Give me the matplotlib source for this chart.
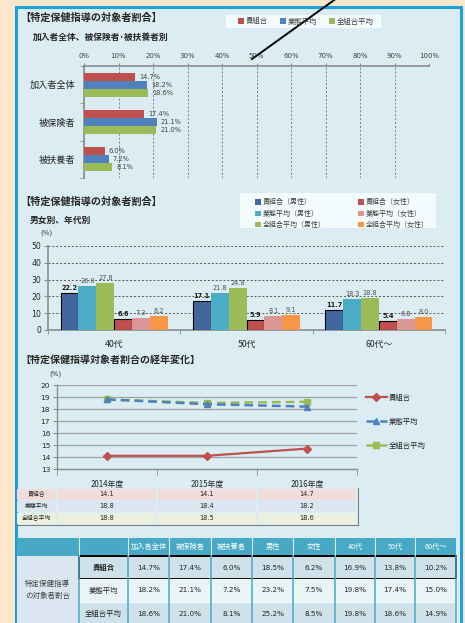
import matplotlib.pyplot as plt
import numpy as np
from matplotlib.patches import Rectangle
from matplotlib.lines import Line2D

plt.rcParams['font.family'] = ['Noto Sans CJK JP', 'DejaVu Sans']

W, H = 465, 623
NUM = 'DejaVu Sans'

# --- data -------------------------------------------------------------
group_labels = ['加入者全体', '被保険者', '被扶養者']
series_names = ['貴組合', '業態平均', '全組合平均']
ratio_kumiai = [14.7, 17.4, 6.0]
ratio_gyotai = [18.2, 21.1, 7.2]
ratio_zen = [18.6, 21.0, 8.1]

age_labels = ['40代', '50代', '60代～']
age_series_names = ['貴組合（男性）', '業態平均（男性）', '全組合平均（男性）',
                    '貴組合（女性）', '業態平均（女性）', '全組合平均（女性）']
male_kumiai = [22.2, 17.1, 11.7]
male_gyotai = [26.0, 21.8, 18.3]
male_zen = [27.8, 24.8, 18.8]
female_kumiai = [6.6, 5.9, 5.4]
female_gyotai = [7.3, 8.1, 6.8]
female_zen = [8.2, 9.1, 8.0]

years = ['2014年度', '2015年度', '2016年度']
trend_kumiai = [14.1, 14.1, 14.7]
trend_gyotai = [18.8, 18.4, 18.2]
trend_zen = [18.8, 18.5, 18.6]

table_cols = ['加入者全体', '被保険者', '被扶養者', '男性', '女性', '40代', '50代', '60代～']
table_kumiai = [14.7, 17.4, 6.0, 18.5, 6.2, 16.9, 13.8, 10.2]
table_gyotai = [18.2, 21.1, 7.2, 23.2, 7.5, 19.8, 17.4, 15.0]
table_zen = [18.6, 21.0, 8.1, 25.2, 8.5, 19.8, 18.6, 14.9]

# --- figure / background ---------------------------------------------
fig = plt.figure(figsize=(W / 100, H / 100), dpi=100)
fig.patch.set_facecolor('#FBE7C9')
bg = fig.add_axes([0, 0, 1, 1])
bg.set_xlim(0, W)
bg.set_ylim(H, 0)
bg.axis('off')


def px_axes(l, t, r, b):
    ax = fig.add_axes([l / W, 1 - b / H, (r - l) / W, (b - t) / H])
    ax.set_facecolor('none')
    return ax


def rect(x0, y0, x1, y1, **kw):
    bg.add_patch(Rectangle((x0, y0), x1 - x0, y1 - y0, **kw))


rect(15.5, 6.5, 460.5, 660, fc='#DBEDF3', ec='#1BA0E0', lw=2.2)

GRAY = '#8C8C8C'

# ===== 1. 加入者全体、被保険者・被扶養者別 =====
bg.text(20, 18, '【特定保健指導の対象者割合】', fontsize=7.3, weight='bold', va='center', color='#262626')
bg.text(33, 37, '加入者全体、被保険者･被扶養者別', fontsize=6.3, weight='bold', va='center', color='#262626')

ax1 = px_axes(84, 66, 429, 178)
y = np.arange(len(group_labels))
h = 0.215
colors1 = ['#C0504D', '#4F81BD', '#9BBB59']
for j, (vals, name, c) in enumerate(zip([ratio_kumiai, ratio_gyotai, ratio_zen], series_names, colors1)):
    bars = ax1.barh(y + (j - 1) * h, vals, height=h, color=c, label=name, zorder=3)
    for b, v in zip(bars, vals):
        ax1.text(v + 1.2, b.get_y() + h / 2, f'{v:.1f}%', va='center', ha='left',
                 fontsize=4.8, color='#404040', family=NUM)
ax1.set_xlim(0, 100)
ax1.set_ylim(2.5, -0.5)
ax1.xaxis.tick_top()
ax1.set_xticks(np.arange(0, 101, 10), [f'{t}%' for t in range(0, 101, 10)],
               fontsize=5, family=NUM, color='#404040')
ax1.tick_params(axis='x', length=2, color=GRAY, pad=3)
ax1.set_yticks(y, group_labels, fontsize=6.6, color='#262626')
ax1.set_yticks([-0.5, 0.5, 1.5, 2.5], minor=True)
ax1.tick_params(axis='y', which='major', length=0, pad=6)
ax1.tick_params(axis='y', which='minor', length=3, color=GRAY)
ax1.grid(axis='x', color='#7F7F7F', ls=(0, (2, 2)), lw=0.7, zorder=0)
for s in ['bottom', 'right']:
    ax1.spines[s].set_visible(False)
for s in ['top', 'left']:
    ax1.spines[s].set_color(GRAY)
    ax1.spines[s].set_linewidth(1.2)

rect(226, 15, 381, 28, fc='#F4FBFC', ec='none')
ax1.legend(ncol=3, loc='center left', bbox_to_anchor=(234 / W, 1 - 21.5 / H),
           bbox_transform=fig.transFigure, frameon=False, fontsize=5.3,
           handlelength=0.8, handleheight=0.8, handletextpad=0.3,
           columnspacing=1.6, borderpad=0, labelcolor='#404040')

# arrow line
bg.add_line(Line2D([337, 252], [-2, 59], color='black', lw=1.4))

# ===== 2. 男女別、年代別 =====
bg.text(20, 202, '【特定保健指導の対象者割合】', fontsize=7.3, weight='bold', va='center', color='#262626')
bg.text(30, 220, '男女別、年代別', fontsize=6.3, weight='bold', va='center', color='#262626')
bg.text(40, 233, '(%)', fontsize=5, va='center', color='#404040', family=NUM)

ax2 = px_axes(48, 246, 445, 330)
x = np.arange(len(age_labels))
w = 0.135
colors2 = ['#41679E', '#4BACC6', '#9BBB59', '#C0504D', '#D99694', '#F79646']
series2 = [male_kumiai, male_gyotai, male_zen, female_kumiai, female_gyotai, female_zen]
for j, (vals, name, c) in enumerate(zip(series2, age_series_names, colors2)):
    own = j in (0, 3)
    bars = ax2.bar(x + (j - 2.5) * w, vals, width=w, color=c, label=name, zorder=3,
                   edgecolor='black' if own else 'none', lw=0.8 if own else 0)
    for b, v in zip(bars, vals):
        ax2.text(b.get_x() + w / 2, v + 1.2, f'{v:.1f}', ha='center', va='bottom',
                 fontsize=4.7, family=NUM,
                 weight='bold' if own else 'normal',
                 color='#1A1A1A' if own else '#505050')
ax2.set_xlim(-0.5, 2.5)
ax2.set_ylim(0, 50)
ax2.set_yticks(np.arange(0, 51, 10), [str(t) for t in range(0, 51, 10)],
               fontsize=5.6, family=NUM, color='#262626')
ax2.tick_params(axis='y', length=3, color=GRAY, pad=2)
ax2.set_xticks(x, age_labels, fontsize=6.3, color='#262626')
ax2.set_xticks([-0.5, 0.5, 1.5, 2.5], minor=True)
ax2.tick_params(axis='x', which='major', length=0, pad=7)
ax2.tick_params(axis='x', which='minor', length=3, color=GRAY)
ax2.grid(axis='y', color='#595959', ls=(0, (2, 2)), lw=0.7, zorder=0)
for s in ['top', 'right']:
    ax2.spines[s].set_visible(False)
for s in ['bottom', 'left']:
    ax2.spines[s].set_color(GRAY)
    ax2.spines[s].set_linewidth(1.2)

rect(240, 193, 436, 228, fc='#F4FBFC', ec='none')
leg2 = ax2.legend(ncol=2, loc='upper left', bbox_to_anchor=(252 / W, 1 - 195 / H),
                  bbox_transform=fig.transFigure, frameon=False, fontsize=5,
                  handlelength=0.8, handleheight=0.8, handletextpad=0.3,
                  columnspacing=4.6, borderpad=0, labelspacing=0.45, labelcolor='#404040')
for hnd in leg2.legend_handles:
    hnd.set_edgecolor('none')

# ===== 3. 経年変化 =====
bg.text(20, 360, '【特定保健指導対象者割合の経年変化】', fontsize=7.2, weight='bold', va='center', color='#262626')
bg.text(49, 374, '(%)', fontsize=5, va='center', color='#404040', family=NUM)

ax3 = px_axes(57, 385, 357, 469)
xt = np.arange(len(years)) + 0.5
ax3.plot(xt, trend_gyotai, color='#4F81BD', lw=1.8, ls=(0, (3.5, 2)), marker='^', ms=5,
         label=series_names[1], zorder=4)
ax3.plot(xt, trend_zen, color='#9BBB59', lw=1.8, ls=(0, (3.5, 2)), marker='s', ms=4,
         label=series_names[2], zorder=3)
ax3.plot(xt, trend_kumiai, color='#C0504D', lw=1.6, marker='D', ms=4,
         label=series_names[0], zorder=5)
ax3.set_xlim(0, 3)
ax3.set_ylim(13, 20)
ax3.set_yticks(np.arange(13, 21), [str(t) for t in range(13, 21)],
               fontsize=5.3, family=NUM, color='#262626')
ax3.tick_params(axis='y', length=3, color=GRAY, pad=2)
ax3.set_xticks(xt, years, fontsize=5.7, color='#262626')
ax3.set_xticks([0, 1, 2, 3], minor=True)
ax3.tick_params(axis='x', which='major', length=0, pad=8)
ax3.tick_params(axis='x', which='minor', length=4, color=GRAY)
ax3.grid(axis='y', color='#A0A0A0', lw=0.9, zorder=0)
for s in ['top', 'right']:
    ax3.spines[s].set_visible(False)
for s in ['bottom', 'left']:
    ax3.spines[s].set_color(GRAY)
    ax3.spines[s].set_linewidth(1.0)
hs, ls_ = ax3.get_legend_handles_labels()
order = [2, 0, 1]
ax3.legend([hs[i] for i in order], [ls_[i] for i in order], loc='upper left',
           bbox_to_anchor=(362 / W, 1 - 390 / H), bbox_transform=fig.transFigure,
           frameon=False, fontsize=5.3, labelspacing=2.2, handlelength=2.9,
           handletextpad=0.2, borderpad=0, labelcolor='#262626')

# small data table under the line chart
row_colors = ['#F2DCDB', '#DCE6F1', '#EBF1DE']
row_tops = [489, 501, 513]
cell_x = [(58, 156), (158, 256), (258, 356)]
for name, vals, rc, top in zip(series_names, [trend_kumiai, trend_gyotai, trend_zen], row_colors, row_tops):
    rect(17, top, 56, top + 11, fc=rc, ec='none')
    bg.text(36.5, top + 5.5, name, fontsize=4.2, ha='center', va='center', color='#262626')
    for (x0, x1), v in zip(cell_x, vals):
        rect(x0, top, x1, top + 11, fc=rc, ec='none')
        bg.text((x0 + x1) / 2, top + 5.5, f'{v:.1f}', fontsize=4.8, ha='center', va='center',
                color='#262626', family=NUM)
bg.add_line(Line2D([17, 357.5], [524.5, 524.5], color='#7F7F7F', lw=0.8))
bg.add_line(Line2D([357.5, 357.5], [488, 524.5], color='#7F7F7F', lw=0.8))

# ===== 4. summary table =====
TEAL = '#47A9C5'
col_edges = [128, 169, 211, 252, 293, 335, 375, 415, 456]
rect(17, 538, 456, 556, fc=TEAL, ec='none')
for x0, x1, lab in zip(col_edges[:-1], col_edges[1:], table_cols):
    bg.text((x0 + x1) / 2, 547, lab, fontsize=5.2, ha='center', va='center', color='white')
for xe in [79] + col_edges[:-1]:
    bg.add_line(Line2D([xe, xe], [538, 556], color='#D8EEF4', lw=0.8))

rect(17, 556, 78.5, 640, fc='#DCE6F1', ec='none')
bg.text(47.5, 590, '特定保健指導\nの対象者割合', fontsize=5.4, ha='center', va='center',
        color='#404040', linespacing=1.6)

body_colors = ['#CFE2EA', '#EAF3F6', '#CFE2EA']
body_tops = [556, 579, 602]
for name, vals, rc, top in zip(series_names, [table_kumiai, table_gyotai, table_zen], body_colors, body_tops):
    rect(79, top, 456, top + 23, fc=rc, ec='none')
    bg.text(103.5, top + 11.5, name, fontsize=5.3, ha='center', va='center', color='#262626',
            weight='bold' if name == '貴組合' else 'normal')
    for x0, x1, v in zip(col_edges[:-1], col_edges[1:], vals):
        bg.text((x0 + x1) / 2, top + 11.5, f'{v:.1f}%', fontsize=5.2, ha='center', va='center',
                color='#262626', family=NUM)
for top in body_tops[1:]:
    bg.add_line(Line2D([79, 456], [top, top], color='#F4FAFC', lw=0.8))
for xe in [79] + col_edges:
    bg.add_line(Line2D([xe, xe], [556, 640], color=TEAL, lw=1.1))
rect(79, 556, 456, 579, fc='none', ec='black', lw=1.4)

fig.savefig('out.png', dpi=100, facecolor=fig.get_facecolor())
